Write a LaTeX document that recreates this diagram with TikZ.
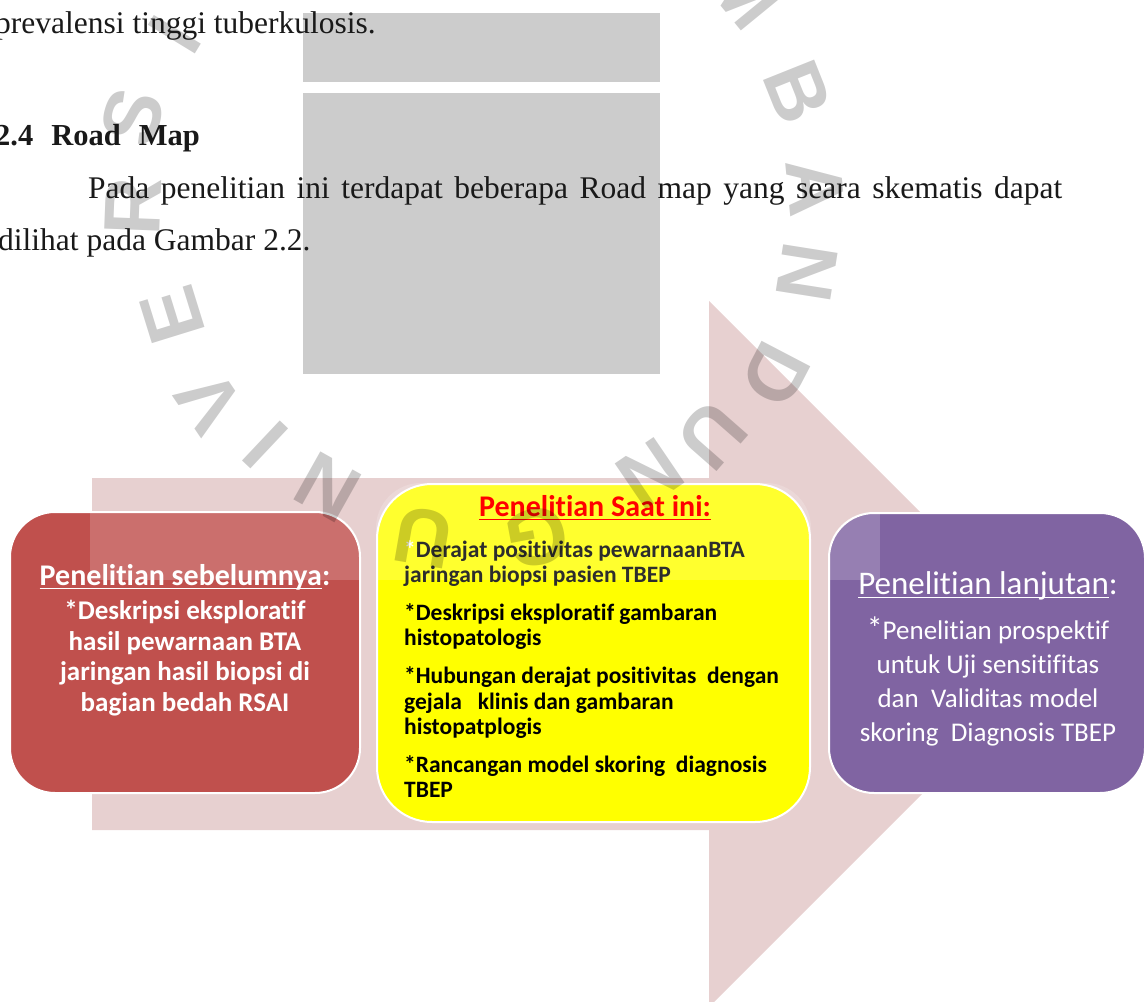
\documentclass[tikz,border=0pt]{standalone}
\usepackage{fontspec}
\setmainfont{Liberation Serif}
\newfontfamily\boxfont[Ligatures={NoCommon}]{Carlito}
\newfontfamily\markfont{Liberation Sans}
\usetikzlibrary{positioning}

\definecolor{pagegrey}{RGB}{204,204,204}
\definecolor{arrowpink}{RGB}{231,208,208}
\definecolor{prevred}{RGB}{192,80,77}
\definecolor{nowyellow}{RGB}{255,255,0}
\definecolor{nextpurple}{RGB}{128,100,162}
\definecolor{inktext}{RGB}{25,25,25}
\definecolor{darkink}{RGB}{45,45,45}
\newcommand{\thickul}[1]{\setbox0\hbox{#1}\rlap{\rule[-4pt]{\wd0}{1.5pt}}\box0}

\tikzset{stagebox/.style={rounded corners=45pt,draw=white,line width=2pt,inner sep=0pt}}
\tikzset{pagetext/.style={font=\fontsize{31.5}{31.5}\selectfont,text=inktext,inner sep=0pt,anchor=base west}}
\tikzset{wmark/.style={font=\markfont\bfseries\fontsize{80}{80}\selectfont,text=black,text opacity=.2,inner sep=0pt}}

\begin{document}
\begin{tikzpicture}[x=1pt,y=-1pt]
    \useasboundingbox (0,0) rectangle (1148,1001);
    \clip (0,0) rectangle (1148,1001);

    % grey blocks of the page
    \fill[pagegrey] (303,13) rectangle (660,82);
    \fill[pagegrey] (303,93) rectangle (660,374);

    % big arrow behind the stages
    \fill[arrowpink] (92,478) -- (709,478) -- (709,301) -- (1062,654)
        -- (709,1007) -- (709,830) -- (92,830) -- cycle;

    \node[stagebox,fill=prevred,minimum width=350pt,minimum height=281pt] (prev) at (185,652.5) {};
    \node[stagebox,rounded corners=55pt,fill=nowyellow,minimum width=433pt,minimum height=338pt] (now) at (593.5,653) {};
    \node[stagebox,fill=nextpurple,minimum width=316pt,minimum height=280pt] (next) at (987,653) {};

    \foreach \b in {prev,now,next}{
        \begin{scope}
            \clip[rounded corners=45pt] (\b.south west) rectangle (\b.north east);
            \fill[white,opacity=.18] (90,478) rectangle (880,580);
        \end{scope}
    }

    % stage texts
    \node[font=\boxfont\bfseries\fontsize{30}{30}\selectfont,text=white,anchor=base,inner sep=0pt] (prevtitle) at (185,585) {\thickul{Penelitian sebelumnya}:};
    \node[font=\boxfont\bfseries\fontsize{27}{30.5}\selectfont,text=white,align=center,anchor=north,inner sep=0pt] (prevtext) at (185,600)
        {*Deskripsi eksploratif\\hasil pewarnaan BTA\\jaringan hasil biopsi di\\bagian bedah RSAI};

    \node[font=\boxfont\bfseries\fontsize{30}{30}\selectfont,text=red,anchor=base,inner sep=0pt] (nowtitle) at (595,516) {\thickul{Penelitian Saat ini:}};
    \node[font=\boxfont\bfseries\fontsize{23.5}{25.8}\selectfont,text=black,align=left,anchor=north west,inner sep=0pt] (nowtext) at (404,540)
        {\textcolor{white}{*}\textcolor{darkink}{Derajat positivitas pewarnaanBTA}\\
         \textcolor{darkink}{jaringan biopsi pasien TBEP}\\[11.5pt]
         *Deskripsi eksploratif gambaran\\
         histopatologis\\[11.5pt]
         *Hubungan derajat positivitas\ \ dengan\\
         gejala\ \ \ klinis dan gambaran\\
         histopatplogis\\[11.5pt]
         *Rancangan model skoring\ \ diagnosis\\
         TBEP};

    \node[font=\boxfont\fontsize{33}{34}\selectfont,text=white,anchor=base,inner sep=0pt] (nexttitle) at (988,594) {\thickul{Penelitian lanjutan}:};
    \node[font=\boxfont\fontsize{27}{34}\selectfont,text=white,align=center,anchor=north,inner sep=0pt] (nexttext) at (988,617)
        {{\fontsize{32}{34}\selectfont*}Penelitian prospektif\\untuk Uji sensitifitas\\dan\ \ Validitas model\\skoring\ \ Diagnosis TBEP};

    % watermark letters
    \foreach \ch/\px/\py/\rot [count=\i] in {I/175/35/58.6,S/133/117/73.4,R/133/207/87.8,E/172/315/107.2,
        V/210/402/124.2,I/266/445/136.7,N/328/487/150.7,U/423/537/170.2,G/537/537/-169.5,N/650/473/-145.8,
        U/712/435/-131.3,D/775/375/-117.6,N/807/272/-99,A/816/188/-84.6,B/798/92/-68.2,M/745/-8/-50.7}
        \node[wmark,rotate=\rot] (mark\i) at (\px,\py) {\ch};

    % page text
    \node[pagetext] (line1) at (-5,33) {prevalensi tinggi tuberkulosis.};
    \node[pagetext,font=\bfseries\fontsize{30.5}{30.5}\selectfont] (heading) at (-5,145) {2.4\hspace{18pt}Road\hspace{18pt}Map};
    \node[pagetext] (line2) at (88,198) {\makebox[974pt][s]{Pada penelitian ini terdapat beberapa Road map yang seara skematis dapat}};
    \node[pagetext] (line3) at (-2,250) {dilihat pada Gambar 2.2.};
\end{tikzpicture}
\end{document}
